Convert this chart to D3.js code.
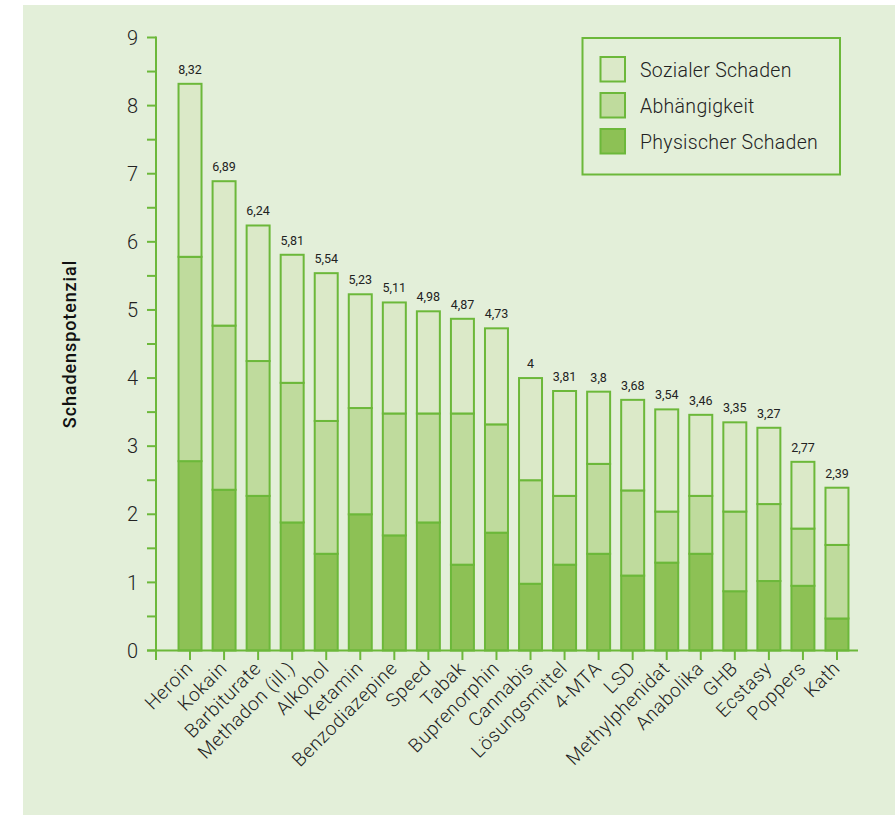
<!DOCTYPE html>
<html>
<head>
<meta charset="utf-8">
<script src="https://cdn.jsdelivr.net/npm/d3@7/dist/d3.min.js"></script>
<style>
  html, body { margin: 0; padding: 0; background: #ffffff; }
  svg { display: block; font-family: Roboto, "Open Sans", sans-serif; }
</style>
</head>
<body>
<svg id="chart" width="895" height="815"></svg>
<script>
// ---- data ----
const categories = ["Heroin", "Kokain", "Barbiturate", "Methadon (ill.)", "Alkohol", "Ketamin",
  "Benzodiazepine", "Speed", "Tabak", "Buprenorphin", "Cannabis", "Lösungsmittel", "4-MTA",
  "LSD", "Methylphenidat", "Anabolika", "GHB", "Ecstasy", "Poppers", "Kath"];
const physischerSchaden = [2.78, 2.36, 2.27, 1.88, 1.42, 2.00, 1.69, 1.88, 1.26, 1.73,
  0.98, 1.26, 1.42, 1.10, 1.29, 1.42, 0.87, 1.02, 0.95, 0.47];
const abhaengigkeit = [3.00, 2.41, 1.98, 2.05, 1.95, 1.56, 1.79, 1.60, 2.22, 1.59,
  1.52, 1.01, 1.32, 1.25, 0.75, 0.85, 1.17, 1.13, 0.84, 1.08];
const sozialerSchaden = [2.54, 2.12, 1.99, 1.88, 2.17, 1.67, 1.63, 1.50, 1.39, 1.41,
  1.50, 1.54, 1.06, 1.33, 1.50, 1.19, 1.31, 1.12, 0.98, 0.84];
const totalLabels = ["8,32", "6,89", "6,24", "5,81", "5,54", "5,23", "5,11", "4,98", "4,87", "4,73",
  "4", "3,81", "3,8", "3,68", "3,54", "3,46", "3,35", "3,27", "2,77", "2,39"];
const seriesNames = ["Physischer Schaden", "Abhängigkeit", "Sozialer Schaden"];
const yTicks = [0, 1, 2, 3, 4, 5, 6, 7, 8, 9];
const yMinorTicks = [0.5, 1.5, 2.5, 3.5, 4.5, 5.5, 6.5, 7.5, 8.5];
const yTitle = "Schadenspotenzial";

// ---- styles ----
const colors = ["#8dc155", "#bfdb9d", "#dbe9c8"];
const strokeCol = "#6cb83a";
const panelBg = "#e3efd9";

const svg = d3.select("#chart");
svg.append("rect").attr("x", 23).attr("y", 5).attr("width", 872).attr("height", 810).attr("fill", panelBg);

const table = categories.map((c, i) => ({
  cat: c,
  "Physischer Schaden": physischerSchaden[i],
  "Abhängigkeit": abhaengigkeit[i],
  "Sozialer Schaden": sozialerSchaden[i],
  label: totalLabels[i]
}));
const stacked = d3.stack().keys(seriesNames)(table);

const x = d3.scaleBand().domain(categories).range([173, 854]).paddingInner(0.325).paddingOuter(0.1625);
const y = d3.scaleLinear().domain([0, 9]).range([650.5, 37.5]);

const x0 = 156;

// bars
const g = svg.append("g");
stacked.forEach((s, si) => {
  g.selectAll(null).data(s).enter().append("rect")
    .attr("x", d => x(d.data.cat))
    .attr("width", x.bandwidth())
    .attr("y", d => y(d[1]))
    .attr("height", d => y(d[0]) - y(d[1]))
    .attr("fill", colors[si])
    .attr("stroke", strokeCol)
    .attr("stroke-width", 2);
});

// total labels
const topLayer = stacked[stacked.length - 1];
svg.selectAll(null).data(topLayer).enter().append("text")
  .attr("x", d => x(d.data.cat) + x.bandwidth() / 2)
  .attr("y", d => y(d[1]) - 10)
  .attr("text-anchor", "middle")
  .attr("font-size", 12.5)
  .attr("font-weight", 400)
  .attr("fill", "#222")
  .text(d => d.data.label);

// y axis
const yAxis = svg.append("g");
yAxis.append("line").attr("x1", x0).attr("x2", x0).attr("y1", y(9) - 1).attr("y2", y(0) + 9.5)
  .attr("stroke", strokeCol).attr("stroke-width", 2);
yAxis.selectAll(null).data(yTicks.concat(yMinorTicks)).enter().append("line")
  .attr("x1", x0 - 9).attr("x2", x0).attr("y1", d => y(d)).attr("y2", d => y(d))
  .attr("stroke", strokeCol).attr("stroke-width", 2);
yAxis.selectAll(null).data(yTicks).enter().append("text")
  .attr("x", 138).attr("y", d => y(d)).attr("dy", "0.36em")
  .attr("text-anchor", "end").attr("font-size", 20).attr("font-weight", 300).attr("fill", "#222")
  .text(d => d);

// x axis
const xAxis = svg.append("g");
xAxis.append("line").attr("x1", 147).attr("x2", 858).attr("y1", y(0)).attr("y2", y(0))
  .attr("stroke", strokeCol).attr("stroke-width", 2);
xAxis.selectAll(null).data(categories).enter().append("line")
  .attr("x1", d => x(d) + x.bandwidth() / 2).attr("x2", d => x(d) + x.bandwidth() / 2)
  .attr("y1", y(0)).attr("y2", y(0) + 9.5)
  .attr("stroke", strokeCol).attr("stroke-width", 2);
xAxis.selectAll(null).data(categories).enter().append("text")
  .attr("transform", d => `translate(${x(d) + x.bandwidth() / 2 + 4},${y(0) + 19}) rotate(-45)`)
  .attr("text-anchor", "end").attr("font-size", 19).attr("font-weight", 300)
  .attr("letter-spacing", 0.6).attr("fill", "#222")
  .text(d => d);

// y title
svg.append("text")
  .attr("transform", "translate(76,344) rotate(-90)")
  .attr("text-anchor", "middle").attr("font-size", 18).attr("font-weight", 500)
  .attr("letter-spacing", 0.9).attr("fill", "#111")
  .text(yTitle);

// legend
const lg = svg.append("g");
lg.append("rect").attr("x", 582.5).attr("y", 38).attr("width", 257.5).attr("height", 136.5)
  .attr("fill", "none").attr("stroke", strokeCol).attr("stroke-width", 2);
const legendOrder = [2, 1, 0];
legendOrder.forEach((si, k) => {
  const yy = 57 + k * 36;
  lg.append("rect").attr("x", 600.5).attr("y", yy).attr("width", 24.5).attr("height", 24.5)
    .attr("fill", colors[si]).attr("stroke", strokeCol).attr("stroke-width", 2);
  lg.append("text").attr("x", 640).attr("y", yy + 12.5).attr("dy", "0.36em")
    .attr("font-size", 19.5).attr("font-weight", 300).attr("letter-spacing", 0.3).attr("fill", "#222")
    .text(seriesNames[si]);
});
</script>
</body>
</html>
